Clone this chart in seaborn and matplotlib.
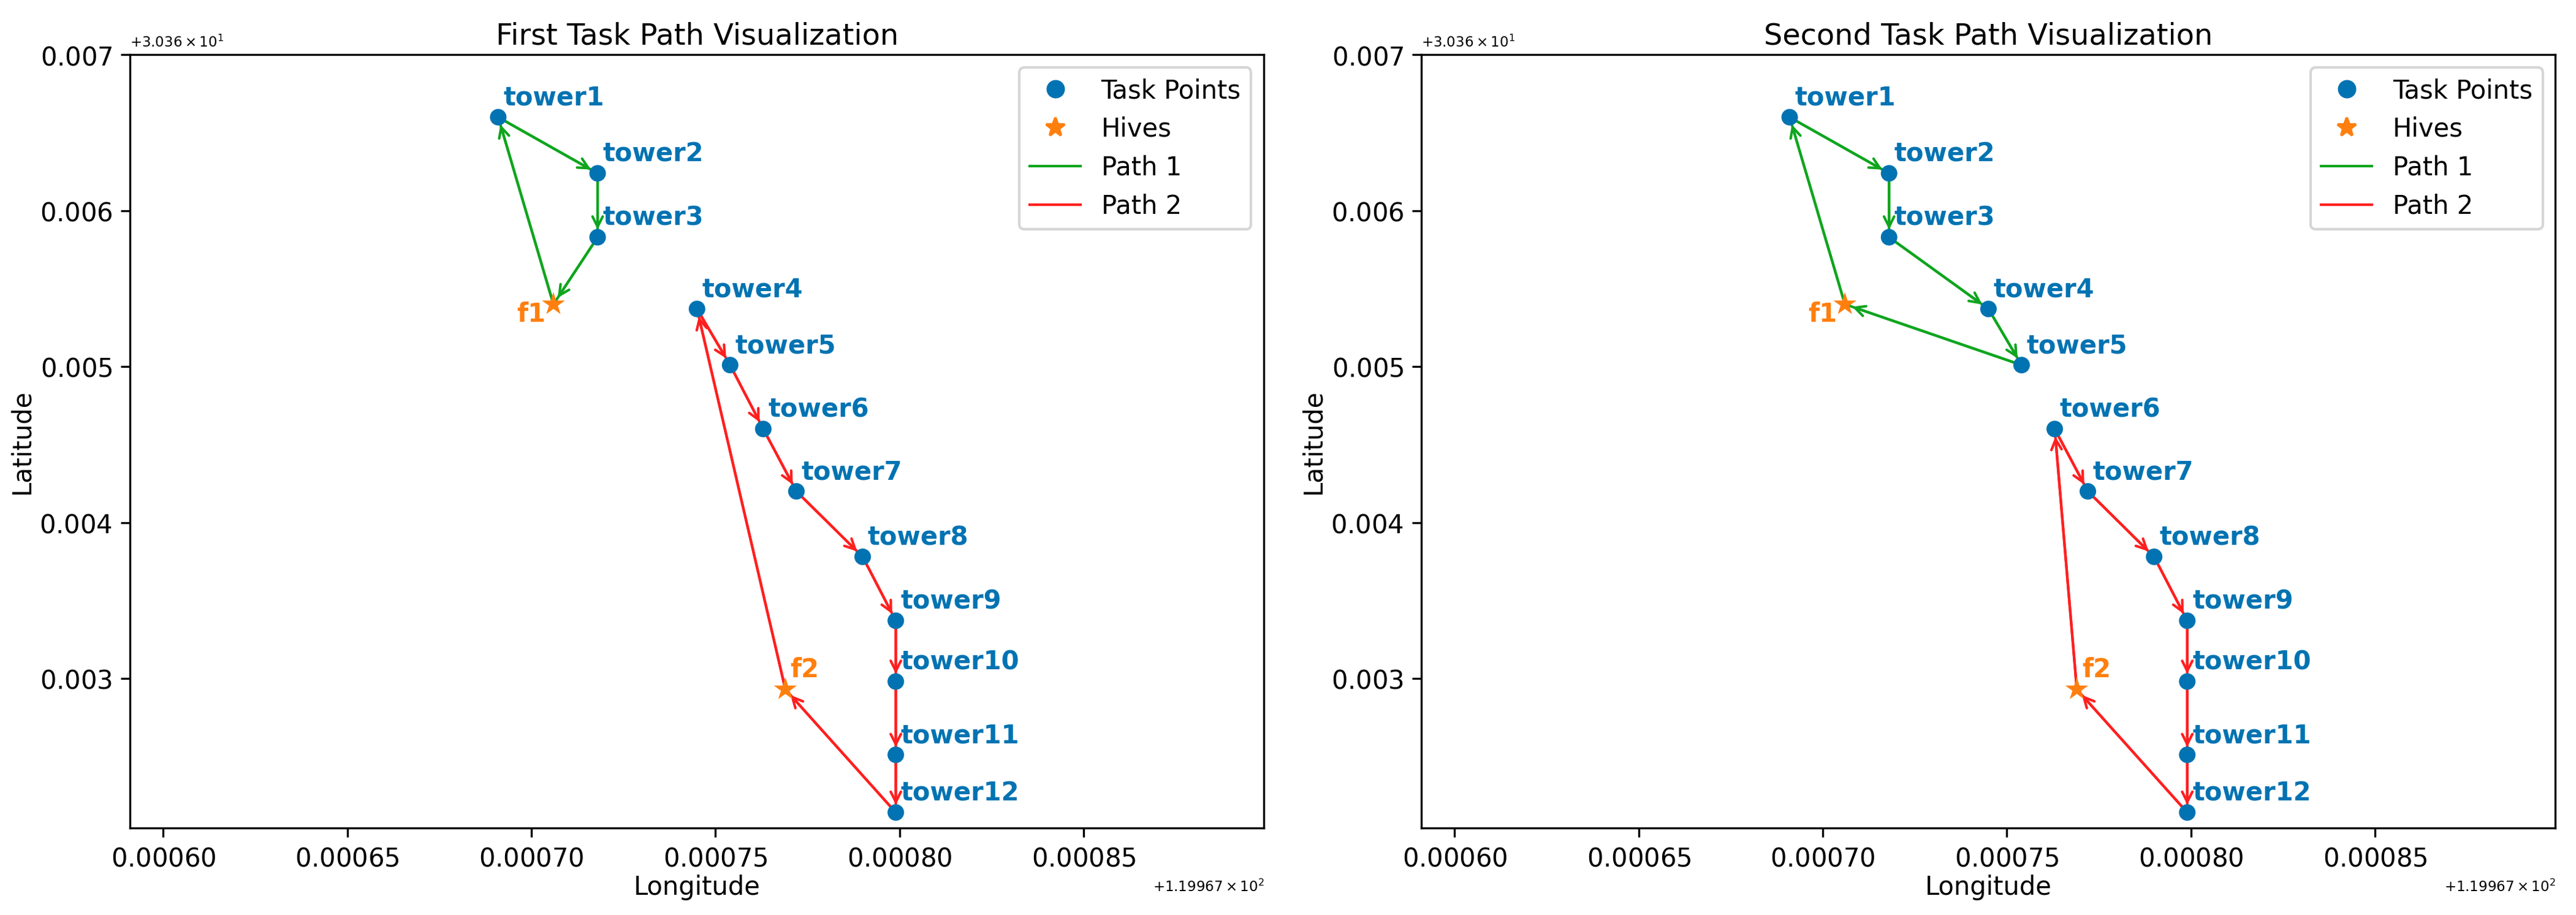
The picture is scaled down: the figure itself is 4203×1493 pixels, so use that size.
import matplotlib
matplotlib.use("Agg")
import matplotlib.pyplot as plt
from matplotlib.ticker import ScalarFormatter
from matplotlib.lines import Line2D
import pandas as pd
import seaborn as sns

# task points (towers) and hives
tower_names = ["tower1", "tower2", "tower3", "tower4", "tower5", "tower6",
               "tower7", "tower8", "tower9", "tower10", "tower11", "tower12"]
tower_lon = [119.967691, 119.967718, 119.967718, 119.967745, 119.967754, 119.967763,
             119.967772, 119.967790, 119.967799, 119.967799, 119.967799, 119.967799]
tower_lat = [30.36660, 30.36624, 30.36583, 30.36537, 30.36501, 30.36460,
             30.36420, 30.36378, 30.36337, 30.36298, 30.36251, 30.36214]

hive_names = ["f1", "f2"]
hive_lon = [119.967706, 119.967769]
hive_lat = [30.36540, 30.36293]

# routes of the two tasks
first_path1 = ["f1", "tower1", "tower2", "tower3", "f1"]
first_path2 = ["f2", "tower4", "tower5", "tower6", "tower7", "tower8", "tower9",
               "tower10", "tower11", "tower12", "f2"]
second_path1 = ["f1", "tower1", "tower2", "tower3", "tower4", "tower5", "f1"]
second_path2 = ["f2", "tower6", "tower7", "tower8", "tower9", "tower10", "tower11",
                "tower12", "f2"]

towers = pd.DataFrame({"name": tower_names, "lon": tower_lon, "lat": tower_lat})
hives = pd.DataFrame({"name": hive_names, "lon": hive_lon, "lat": hive_lat})
coords = pd.concat([towers, hives]).set_index("name")

blue = "#0173b2"
orange = "#ff7f0e"
green = "#0fa51e"
red = "#ff1f1f"

plt.rcParams["font.family"] = "DejaVu Sans"

fig, axes = plt.subplots(1, 2, figsize=(14.01, 4.977), dpi=300)
fig.subplots_adjust(left=0.0505, right=0.992, top=0.94, bottom=0.095, wspace=0.139)


def draw(ax, path1, path2, title):
    sns.scatterplot(data=towers, x="lon", y="lat", ax=ax, color=blue, s=42,
                    edgecolor="none", zorder=3, legend=False)
    sns.scatterplot(data=hives, x="lon", y="lat", ax=ax, color=orange, marker="*", s=90,
                    edgecolor="none", zorder=3, legend=False)

    for path, col in [(path1, green), (path2, red)]:
        seg = coords.loc[path].reset_index()
        sns.lineplot(data=seg, x="lon", y="lat", ax=ax, sort=False, estimator=None,
                     color=col, lw=1, zorder=2, legend=False)
        for i in range(len(seg) - 1):
            ax.annotate("", xy=(seg.lon[i + 1], seg.lat[i + 1]), xytext=(seg.lon[i], seg.lat[i]),
                        arrowprops=dict(arrowstyle="->", color=col, lw=1, shrinkA=0, shrinkB=3),
                        zorder=2)

    for _, r in towers.iterrows():
        ax.annotate(r["name"], (r.lon, r.lat), xytext=(2, 2.5), textcoords="offset points",
                    color=blue, fontsize=10, fontweight="bold", ha="left", va="bottom")
    ax.annotate("f1", (hives.lon[0], hives.lat[0]), xytext=(-3, 1), textcoords="offset points",
                color=orange, fontsize=10, fontweight="bold", ha="right", va="top")
    ax.annotate("f2", (hives.lon[1], hives.lat[1]), xytext=(2, 2.5), textcoords="offset points",
                color=orange, fontsize=10, fontweight="bold", ha="left", va="bottom")

    ax.set_xlim(min(tower_lon + hive_lon) - 0.0001, max(tower_lon + hive_lon) + 0.0001)
    ax.set_ylim(min(tower_lat + hive_lat) - 0.0001, max(tower_lat + hive_lat) + 0.0004)
    ax.xaxis.set_major_formatter(ScalarFormatter(useOffset=119.967, useMathText=True))
    ax.yaxis.set_major_formatter(ScalarFormatter(useOffset=30.36, useMathText=True))
    ax.xaxis.get_offset_text().set_fontsize(5.5)
    ax.yaxis.get_offset_text().set_fontsize(5.5)
    ax.tick_params(axis="both", labelsize=10)
    ax.set_xlabel("Longitude", fontsize=10, labelpad=1)
    ax.set_ylabel("Latitude", fontsize=10, labelpad=2)
    ax.set_title(title, fontsize=11.5, pad=4)

    handles = [
        Line2D([], [], marker="o", ls="", color=blue, ms=6.2, label="Task Points"),
        Line2D([], [], marker="*", ls="", color=orange, ms=7.5, label="Hives"),
        Line2D([], [], color=green, lw=1, label="Path 1"),
        Line2D([], [], color=red, lw=1, label="Path 2"),
    ]
    ax.legend(handles=handles, loc="upper right", fontsize=10)


draw(axes[0], first_path1, first_path2, "First Task Path Visualization")
draw(axes[1], second_path1, second_path2, "Second Task Path Visualization")

fig.savefig("out.png", dpi=300)
